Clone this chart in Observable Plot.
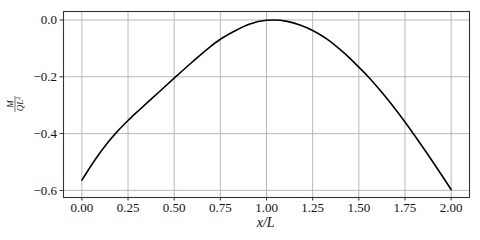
<!DOCTYPE html>
<html>
<head>
<meta charset="utf-8">
<script src="https://cdn.jsdelivr.net/npm/d3@7"></script>
<script src="https://cdn.jsdelivr.net/npm/@observablehq/plot@0.6"></script>
<style>
  html, body { margin: 0; padding: 0; background: #fff; }
  #chart svg { display: block; }
</style>
</head>
<body>
<div id="chart"></div>
<script>
// x/L positions and M/(QL^2) values
const xs = [0, 0.0725, 0.145, 0.19, 0.25, 0.3125, 0.375, 0.5, 0.598, 0.688, 0.75, 0.833, 0.906, 1.0, 1.04, 1.112, 1.185, 1.25, 1.33, 1.42, 1.5, 1.547, 1.638, 1.75, 1.873, 2.0];
const ys = [-0.564, -0.491, -0.428, -0.394, -0.354, -0.316, -0.279, -0.205, -0.148, -0.098, -0.068, -0.037, -0.015, -0.001, 0.0, -0.005, -0.019, -0.037, -0.068, -0.116, -0.166, -0.197, -0.265, -0.359, -0.473, -0.597];
const xTicks = [0, 0.25, 0.5, 0.75, 1.0, 1.25, 1.5, 1.75, 2.0];
const yTicks = [-0.6, -0.4, -0.2, 0.0];

const data = xs.map((x, i) => ({x, y: ys[i]}));
const font = "'Liberation Serif', 'DejaVu Serif', serif";

const chart = Plot.plot({
  width: 480,
  height: 240,
  marginLeft: 63,
  marginRight: 11,
  marginTop: 11,
  marginBottom: 43,
  style: {fontFamily: font, fontSize: "13px", color: "#111", background: "#fff"},
  x: {domain: [-0.0995, 2.0995]},
  y: {domain: [-0.625, 0.0298]},
  marks: [
    Plot.gridX(xTicks, {stroke: "#b0b0b0", strokeOpacity: 1, strokeWidth: 0.9}),
    Plot.gridY(yTicks, {stroke: "#b0b0b0", strokeOpacity: 1, strokeWidth: 0.9}),
    Plot.line(data, {x: "x", y: "y", curve: "monotone-x", stroke: "#000", strokeWidth: 1.6}),
    Plot.frame({stroke: "#333", strokeWidth: 1.1}),
    Plot.axisX(xTicks, {tickFormat: d3.format(".2f"), tickSize: 3.5, tickPadding: 2, label: null, stroke: "#333"}),
    Plot.axisY(yTicks, {tickFormat: d3.format(".1f"), tickSize: 3.5, tickPadding: 3, label: null, stroke: "#333"})
  ]
});
document.getElementById("chart").appendChild(chart);

const svg = d3.select(chart);
// x label
svg.append("text")
  .attr("x", 265.7).attr("y", 227)
  .attr("text-anchor", "middle")
  .attr("font-family", font)
  .attr("font-style", "italic")
  .attr("font-size", 14)
  .attr("fill", "#111")
  .text("x/L");
// y label (fraction M / QL^2, rotated)
const g = svg.append("g").attr("transform", "translate(15,104) rotate(-90)")
  .attr("font-family", font).attr("font-style", "italic").attr("font-size", 9).attr("fill", "#111");
g.append("text").attr("x", 0).attr("y", -2).attr("text-anchor", "middle").text("M");
g.append("line").attr("x1", -8).attr("x2", 8).attr("y1", 0).attr("y2", 0).attr("stroke", "#111").attr("stroke-width", 0.6);
const t2 = g.append("text").attr("x", 0).attr("y", 7.5).attr("text-anchor", "middle");
t2.append("tspan").text("QL");
t2.append("tspan").attr("font-size", 6).attr("font-style", "normal").attr("dy", -3).text("2");
</script>
</body>
</html>
